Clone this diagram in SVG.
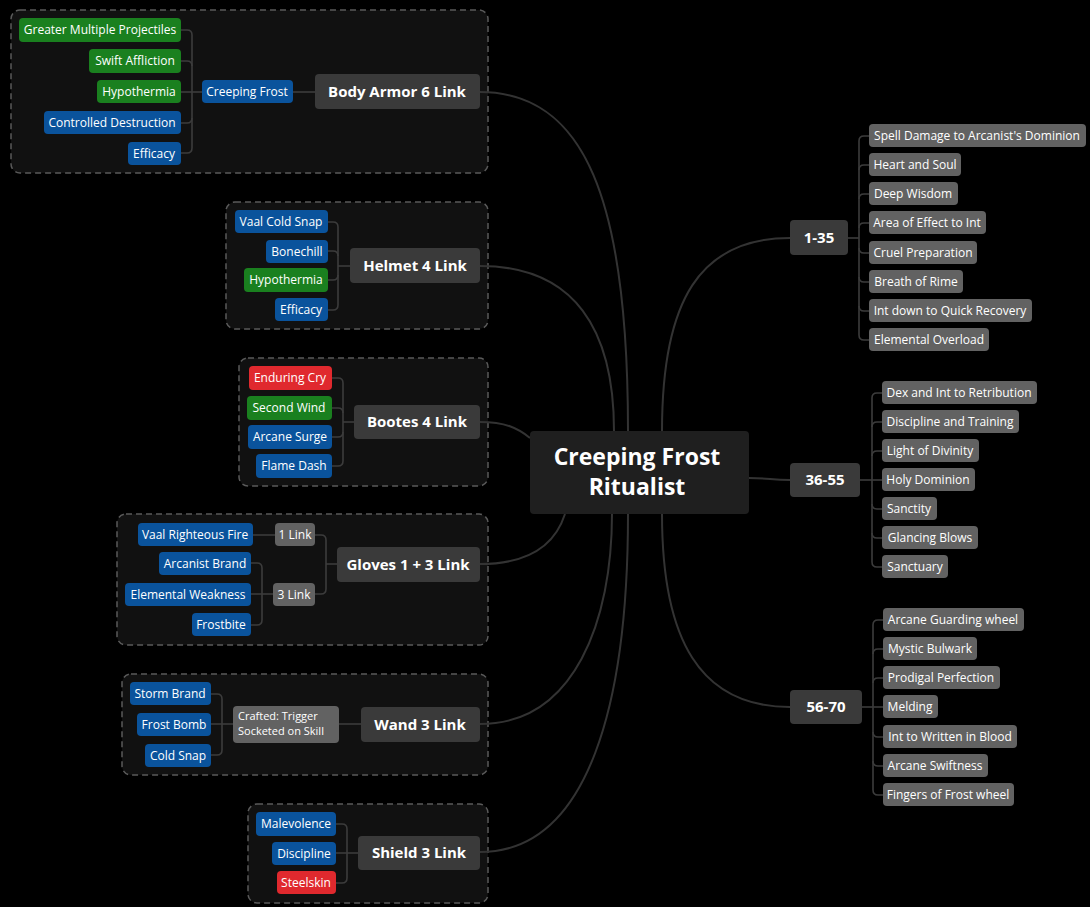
<svg xmlns="http://www.w3.org/2000/svg" width="1090" height="907" viewBox="0 0 1090 907">
<style>
.bg{fill:#000}
.grp{fill:#111;stroke:#5a5a5a;stroke-width:1.5;stroke-dasharray:6 4}
.main{fill:#3a3a3a}
.center{fill:#1f1f1f}
.blue{fill:#0a539c}
.green{fill:#1a801f}
.red{fill:#e0292e}
.grey{fill:#626262}
.lt{font-family:"Open Sans","Noto Sans",sans-serif;font-size:12px;fill:#fff;text-anchor:middle}
.ll{font-family:"Open Sans","Noto Sans",sans-serif;font-size:11px;fill:#fff}
.mt{font-family:"Open Sans","Noto Sans",sans-serif;font-size:15px;font-weight:bold;fill:#fff;text-anchor:middle}
.ct{font-family:"Open Sans","Noto Sans",sans-serif;font-size:23px;font-weight:bold;fill:#fff;text-anchor:middle}
.c{fill:none;stroke:#333;stroke-width:2}
.b{fill:none;stroke:#3c3c3c;stroke-width:1.6}
</style>
<rect class="bg" x="0" y="0" width="1090" height="907"/>

<g id="groups">
<rect class="grp" x="11" y="10" width="477" height="163" rx="9"/>
<rect class="grp" x="226" y="202" width="262" height="127" rx="9"/>
<rect class="grp" x="239" y="358" width="249" height="128" rx="9"/>
<rect class="grp" x="117" y="514" width="371" height="131" rx="9"/>
<rect class="grp" x="122" y="674" width="366" height="101" rx="9"/>
<rect class="grp" x="248" y="804" width="240" height="99" rx="9"/>
</g>

<g id="connectors">
<path class="c" d="M480,92 C585,92 628,200 628,431"/>
<path class="c" d="M480,266 C575,266 614,330 614,431"/>
<path class="c" d="M480,422 C505,422 518,428 530,438"/>
<path class="c" d="M480,564 C530,564 555,545 565,514"/>
<path class="c" d="M480,724 C575,724 612,620 612,514"/>
<path class="c" d="M480,852 C590,852 628,700 628,514"/>
<path class="c" d="M662,431 C662,300 700,238 790,238"/>
<path class="c" d="M749,478 C770,478 770,480 790,480"/>
<path class="c" d="M662,514 C662,640 700,707 790,707"/>
<path class="b" d="M293,92 H315"/>
<path class="b" d="M202,92 H192"/>
<path class="b" d="M181,30 H187 Q192,30 192,35 V148 Q192,153 187,153 H181"/>
<path class="b" d="M181,61 H187 Q192,61 192,66"/>
<path class="b" d="M181,92 H192"/>
<path class="b" d="M181,123 H187 Q192,123 192,118"/>
<path class="b" d="M350,266 H338"/>
<path class="b" d="M328,222 H333 Q338,222 338,227 V305 Q338,310 333,310 H328"/>
<path class="b" d="M328,251 H333 Q338,251 338,256"/>
<path class="b" d="M328,280 H333 Q338,280 338,275"/>
<path class="b" d="M354,422 H343"/>
<path class="b" d="M332,378 H338 Q343,378 343,383 V461 Q343,466 338,466 H332"/>
<path class="b" d="M332,408 H338 Q343,408 343,413"/>
<path class="b" d="M332,437 H338 Q343,437 343,432"/>
<path class="b" d="M337,564 H326"/>
<path class="b" d="M315,535 H321 Q326,535 326,540 V589 Q326,594 321,594 H315"/>
<path class="b" d="M253,535 H275"/>
<path class="b" d="M273,594 H262"/>
<path class="b" d="M251,563 H257 Q262,563 262,568 V620 Q262,625 257,625 H251"/>
<path class="b" d="M251,594 H262"/>
<path class="b" d="M361,724 H339"/>
<path class="b" d="M233,724 H222"/>
<path class="b" d="M211,694 H217 Q222,694 222,699 V750 Q222,755 217,755 H211"/>
<path class="b" d="M211,724 H222"/>
<path class="b" d="M358,853 H347"/>
<path class="b" d="M336,824 H342 Q347,824 347,829 V878 Q347,883 342,883 H336"/>
<path class="b" d="M336,853 H347"/>
<path class="b" d="M848,238 H859"/>
<path class="b" d="M869,136 H864 Q859,136 859,141 V335 Q859,340 864,340 H869"/>
<path class="b" d="M869,165 H864 Q859,165 859,170"/>
<path class="b" d="M869,194 H864 Q859,194 859,199"/>
<path class="b" d="M869,223 H864 Q859,223 859,228"/>
<path class="b" d="M869,253 H864 Q859,253 859,248"/>
<path class="b" d="M869,282 H864 Q859,282 859,277"/>
<path class="b" d="M869,311 H864 Q859,311 859,306"/>
<path class="b" d="M860,480 H872"/>
<path class="b" d="M882,393 H877 Q872,393 872,398 V562 Q872,567 877,567 H882"/>
<path class="b" d="M882,422 H877 Q872,422 872,427"/>
<path class="b" d="M882,451 H877 Q872,451 872,456"/>
<path class="b" d="M882,480 H872"/>
<path class="b" d="M882,509 H877 Q872,509 872,504"/>
<path class="b" d="M882,538 H877 Q872,538 872,533"/>
<path class="b" d="M862,707 H873"/>
<path class="b" d="M883,620 H878 Q873,620 873,625 V790 Q873,795 878,795 H883"/>
<path class="b" d="M883,649 H878 Q873,649 873,654"/>
<path class="b" d="M883,678 H878 Q873,678 873,683"/>
<path class="b" d="M883,707 H873"/>
<path class="b" d="M883,737 H878 Q873,737 873,732"/>
<path class="b" d="M883,766 H878 Q873,766 873,761"/>
</g>

<g id="center">
<rect class="center" x="530" y="431" width="219" height="83" rx="4"/>
<text class="ct" x="637" y="465">Creeping Frost</text>
<text class="ct" x="637" y="495">Ritualist</text>
</g>

<g id="body-armor">
<rect class="main" x="315" y="74" width="165" height="35" rx="4"/>
<text class="mt" x="397" y="97">Body Armor 6 Link</text>
<rect class="blue" x="202" y="80" width="91" height="23" rx="4"/>
<text class="lt" x="247" y="96">Creeping Frost</text>
<rect class="green" x="19" y="18" width="162" height="24" rx="4"/>
<text class="lt" x="100" y="34">Greater Multiple Projectiles</text>
<rect class="green" x="89" y="49" width="92" height="24" rx="4"/>
<text class="lt" x="135" y="65">Swift Affliction</text>
<rect class="green" x="97" y="80" width="84" height="23" rx="4"/>
<text class="lt" x="139" y="96">Hypothermia</text>
<rect class="blue" x="44" y="111" width="137" height="23" rx="4"/>
<text class="lt" x="112" y="127">Controlled Destruction</text>
<rect class="blue" x="128" y="142" width="53" height="23" rx="4"/>
<text class="lt" x="154" y="158">Efficacy</text>
</g>

<g id="helmet">
<rect class="main" x="350" y="248" width="130" height="35" rx="4"/>
<text class="mt" x="415" y="271">Helmet 4 Link</text>
<rect class="blue" x="235" y="210" width="93" height="23" rx="4"/>
<text class="lt" x="281" y="226">Vaal Cold Snap</text>
<rect class="blue" x="266" y="240" width="62" height="23" rx="4"/>
<text class="lt" x="297" y="256">Bonechill</text>
<rect class="green" x="244" y="268" width="84" height="24" rx="4"/>
<text class="lt" x="286" y="284">Hypothermia</text>
<rect class="blue" x="275" y="298" width="53" height="23" rx="4"/>
<text class="lt" x="301" y="314">Efficacy</text>
</g>

<g id="bootes">
<rect class="main" x="354" y="405" width="126" height="34" rx="4"/>
<text class="mt" x="417" y="427">Bootes 4 Link</text>
<rect class="red" x="249" y="366" width="83" height="24" rx="4"/>
<text class="lt" x="290" y="382">Enduring Cry</text>
<rect class="green" x="247" y="396" width="85" height="24" rx="4"/>
<text class="lt" x="289" y="412">Second Wind</text>
<rect class="blue" x="248" y="425" width="84" height="24" rx="4"/>
<text class="lt" x="290" y="441">Arcane Surge</text>
<rect class="blue" x="256" y="454" width="76" height="24" rx="4"/>
<text class="lt" x="294" y="470">Flame Dash</text>
</g>

<g id="gloves">
<rect class="main" x="337" y="547" width="143" height="35" rx="4"/>
<text class="mt" x="408" y="570">Gloves 1 + 3 Link</text>
<rect class="grey" x="275" y="523" width="40" height="23" rx="4"/>
<text class="lt" x="295" y="539">1 Link</text>
<rect class="grey" x="273" y="583" width="42" height="23" rx="4"/>
<text class="lt" x="294" y="599">3 Link</text>
<rect class="blue" x="138" y="523" width="115" height="23" rx="4"/>
<text class="lt" x="195" y="539">Vaal Righteous Fire</text>
<rect class="blue" x="159" y="552" width="92" height="23" rx="4"/>
<text class="lt" x="205" y="568">Arcanist Brand</text>
<rect class="blue" x="125" y="583" width="126" height="23" rx="4"/>
<text class="lt" x="188" y="599">Elemental Weakness</text>
<rect class="blue" x="192" y="613" width="59" height="23" rx="4"/>
<text class="lt" x="221" y="629">Frostbite</text>
</g>

<g id="wand">
<rect class="main" x="361" y="707" width="119" height="35" rx="4"/>
<text class="mt" x="420" y="730">Wand 3 Link</text>
<rect class="grey" x="233" y="706" width="106" height="37" rx="4"/>
<text class="ll" x="238" y="720">Crafted: Trigger</text>
<text class="ll" x="238" y="735">Socketed on Skill</text>
<rect class="blue" x="130" y="682" width="81" height="23" rx="4"/>
<text class="lt" x="170" y="698">Storm Brand</text>
<rect class="blue" x="137" y="713" width="74" height="23" rx="4"/>
<text class="lt" x="174" y="729">Frost Bomb</text>
<rect class="blue" x="145" y="744" width="66" height="23" rx="4"/>
<text class="lt" x="178" y="760">Cold Snap</text>
</g>

<g id="shield">
<rect class="main" x="358" y="836" width="122" height="34" rx="4"/>
<text class="mt" x="419" y="858">Shield 3 Link</text>
<rect class="blue" x="256" y="812" width="80" height="24" rx="4"/>
<text class="lt" x="296" y="828">Malevolence</text>
<rect class="blue" x="272" y="842" width="64" height="23" rx="4"/>
<text class="lt" x="304" y="858">Discipline</text>
<rect class="red" x="277" y="871" width="59" height="23" rx="4"/>
<text class="lt" x="306" y="887">Steelskin</text>
</g>

<g id="lvl-1-35">
<rect class="main" x="790" y="220" width="58" height="35" rx="4"/>
<text class="mt" x="819" y="243">1-35</text>
<rect class="grey" x="869" y="124" width="217" height="23" rx="4"/>
<text class="lt" x="977" y="140">Spell Damage to Arcanist's Dominion</text>
<rect class="grey" x="869" y="153" width="92" height="23" rx="4"/>
<text class="lt" x="915" y="169">Heart and Soul</text>
<rect class="grey" x="869" y="182" width="89" height="23" rx="4"/>
<text class="lt" x="913" y="198">Deep Wisdom</text>
<rect class="grey" x="869" y="211" width="117" height="23" rx="4"/>
<text class="lt" x="927" y="227">Area of Effect to Int</text>
<rect class="grey" x="869" y="241" width="108" height="23" rx="4"/>
<text class="lt" x="923" y="257">Cruel Preparation</text>
<rect class="grey" x="869" y="270" width="94" height="23" rx="4"/>
<text class="lt" x="916" y="286">Breath of Rime</text>
<rect class="grey" x="869" y="299" width="163" height="23" rx="4"/>
<text class="lt" x="950" y="315">Int down to Quick Recovery</text>
<rect class="grey" x="869" y="328" width="120" height="23" rx="4"/>
<text class="lt" x="929" y="344">Elemental Overload</text>
</g>

<g id="lvl-36-55">
<rect class="main" x="790" y="463" width="70" height="34" rx="4"/>
<text class="mt" x="825" y="485">36-55</text>
<rect class="grey" x="882" y="381" width="155" height="23" rx="4"/>
<text class="lt" x="959" y="397">Dex and Int to Retribution</text>
<rect class="grey" x="882" y="410" width="137" height="23" rx="4"/>
<text class="lt" x="950" y="426">Discipline and Training</text>
<rect class="grey" x="882" y="439" width="97" height="23" rx="4"/>
<text class="lt" x="930" y="455">Light of Divinity</text>
<rect class="grey" x="882" y="468" width="93" height="23" rx="4"/>
<text class="lt" x="928" y="484">Holy Dominion</text>
<rect class="grey" x="882" y="497" width="55" height="23" rx="4"/>
<text class="lt" x="909" y="513">Sanctity</text>
<rect class="grey" x="882" y="526" width="96" height="23" rx="4"/>
<text class="lt" x="930" y="542">Glancing Blows</text>
<rect class="grey" x="882" y="555" width="66" height="23" rx="4"/>
<text class="lt" x="915" y="571">Sanctuary</text>
</g>

<g id="lvl-56-70">
<rect class="main" x="790" y="690" width="72" height="34" rx="4"/>
<text class="mt" x="826" y="712">56-70</text>
<rect class="grey" x="883" y="608" width="141" height="23" rx="4"/>
<text class="lt" x="953" y="624">Arcane Guarding wheel</text>
<rect class="grey" x="883" y="637" width="94" height="23" rx="4"/>
<text class="lt" x="930" y="653">Mystic Bulwark</text>
<rect class="grey" x="883" y="666" width="117" height="23" rx="4"/>
<text class="lt" x="941" y="682">Prodigal Perfection</text>
<rect class="grey" x="883" y="695" width="55" height="23" rx="4"/>
<text class="lt" x="910" y="711">Melding</text>
<rect class="grey" x="883" y="725" width="134" height="23" rx="4"/>
<text class="lt" x="950" y="741">Int to Written in Blood</text>
<rect class="grey" x="883" y="754" width="105" height="23" rx="4"/>
<text class="lt" x="935" y="770">Arcane Swiftness</text>
<rect class="grey" x="883" y="783" width="131" height="23" rx="4"/>
<text class="lt" x="948" y="799">Fingers of Frost wheel</text>
</g>
</svg>
